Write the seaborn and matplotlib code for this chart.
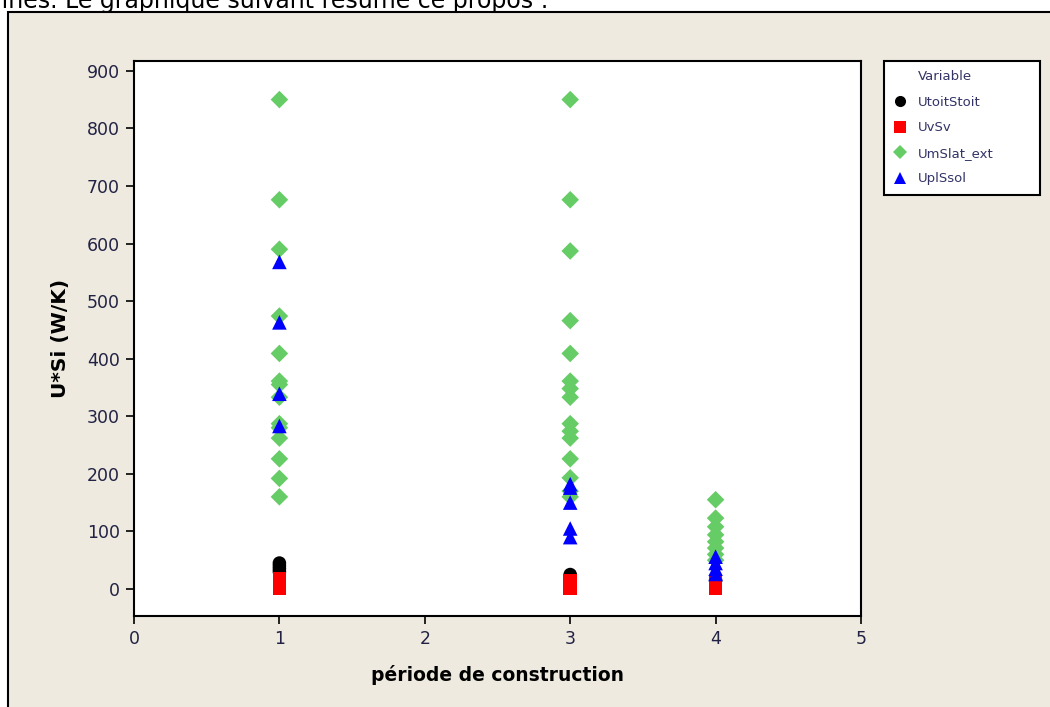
import pandas as pd
import seaborn as sns
from matplotlib import pyplot as plt
from matplotlib.lines import Line2D
from matplotlib.patches import Rectangle

# values, one list per variable
period_toit = [1, 1, 1, 1, 3, 3, 4]
u_toit = [45, 40, 35, 30, 25, 22, 15]

period_v = [1, 1, 1, 1, 3, 3, 3, 4, 4, 4]
u_v = [18, 12, 6, 2, 15, 8, 2, 12, 6, 2]

period_mslat = [1] * 14 + [3] * 15 + [4] * 8
u_mslat = [850, 676, 590, 474, 409, 361, 355, 333, 287, 280, 262, 226, 192, 160,
           850, 676, 587, 466, 409, 361, 348, 333, 287, 274, 262, 226, 193, 170, 160,
           155, 123, 108, 94, 82, 71, 60, 50]

period_pl = [1, 1, 1, 1, 3, 3, 3, 3, 3, 4, 4, 4, 4]
u_pl = [568, 463, 339, 283, 182, 176, 150, 105, 90, 56, 45, 35, 26]

variables = ['UtoitStoit', 'UvSv', 'UmSlat_ext', 'UplSsol']
colors = ['black', '#ff0000', '#66cc66', '#0000ff']
markers = ['o', 's', 'D', '^']
sizes = [95, 95, 80, 110]

df = pd.concat([
    pd.DataFrame({'periode': period_toit, 'valeur': u_toit, 'Variable': variables[0]}),
    pd.DataFrame({'periode': period_v, 'valeur': u_v, 'Variable': variables[1]}),
    pd.DataFrame({'periode': period_mslat, 'valeur': u_mslat, 'Variable': variables[2]}),
    pd.DataFrame({'periode': period_pl, 'valeur': u_pl, 'Variable': variables[3]}),
])

sns.set_style('white')
plt.rcParams['font.family'] = ['DejaVu Sans']

beige = '#eeeae0'
fig = plt.figure(figsize=(10.5, 7.07), dpi=100, facecolor='white')

# beige panel around the chart
fig.patches.append(Rectangle((8 / 1050, -0.05), 1.1, 1 - 12 / 707 + 0.05,
                             transform=fig.transFigure, facecolor=beige,
                             edgecolor='black', linewidth=1.5, zorder=-5))
fig.text(-0.005, 1 - 8 / 707, 'lines. Le graphique suivant résume ce propos :',
         fontsize=17, va='baseline', ha='left', color='black')

ax = fig.add_axes([134 / 1050, 1 - 616 / 707, (861 - 134) / 1050, (616 - 61) / 707])
ax.set_zorder(2)
ax.set_facecolor('white')

for var, col, mk, sz in zip(variables, colors, markers, sizes):
    sub = df[df['Variable'] == var]
    sns.scatterplot(data=sub, x='periode', y='valeur', color=col, marker=mk, s=sz,
                    edgecolor='none', linewidth=0, ax=ax, legend=False)

ax.set_xlim(0, 5)
ax.set_ylim(-47, 917)
ax.set_xticks(range(0, 6))
ax.set_yticks(range(0, 1000, 100))
ax.tick_params(direction='out', length=6, width=1.2, color='black',
               labelsize=12.5, labelcolor='#222244', bottom=True, left=True, pad=4)
for sp in ax.spines.values():
    sp.set_color('black')
    sp.set_linewidth(1.5)

ax.set_xlabel('période de construction', fontsize=13.5, fontweight='bold',
              labelpad=12, color='black')
ax.set_ylabel('U*Si (W/K)', fontsize=14.5, fontweight='bold', labelpad=12,
              color='black')

handles = [Line2D([], [], linestyle='none', marker=None)]
labels = ['Variable']
for var, col, mk in zip(variables, colors, markers):
    handles.append(Line2D([], [], linestyle='none', marker=mk, color=col,
                          markersize=8 if mk != 'D' else 7, markeredgewidth=0))
    labels.append(var)
leg = fig.legend(handles, labels, loc='upper left', mode='expand',
                 bbox_to_anchor=(884 / 1050, 1 - 194 / 707, 156 / 1050, 133 / 707),
                 borderaxespad=0, fontsize=9.5,
                 frameon=True, fancybox=False, edgecolor='black',
                 handlelength=1.0, handletextpad=0.9, borderpad=0.7,
                 labelspacing=0.95, labelcolor='#333366')
leg.set_zorder(3)
leg.get_frame().set_linewidth(1.5)
leg.get_frame().set_facecolor('white')
leg.get_frame().set_alpha(1)
leg._legend_box.align = 'left'

fig.savefig('out.png', dpi=100, facecolor='white')
